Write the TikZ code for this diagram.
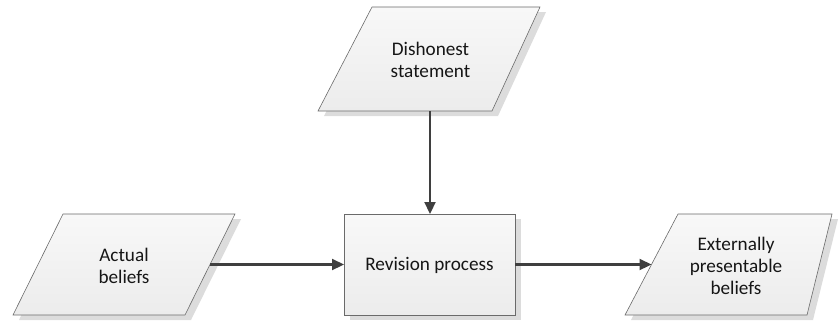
\documentclass[tikz,border=0pt]{standalone}
\usepackage{fontspec}
\setmainfont{Carlito}
\usetikzlibrary{arrows.meta}
\definecolor{edgegray}{HTML}{6A6A6A}
\definecolor{shadowgray}{HTML}{DCDCDC}
\definecolor{flowgray}{HTML}{3F3F3F}
\definecolor{fillhi}{HTML}{F8F8F8}
\definecolor{filllo}{HTML}{ECECEC}
\definecolor{textgray}{HTML}{161616}
\tikzset{
  x=1bp, y=-1bp,
  shapebody/.style={draw=edgegray, line width=0.6bp, top color=fillhi, bottom color=filllo},
  shapeshadow/.style={fill=shadowgray, draw=none},
  label/.style={align=center, text=textgray, font=\fontsize{19.2bp}{22bp}\selectfont, inner sep=0pt},
  flow/.style={draw=flowgray, line width=2.2bp, -{Triangle[length=12bp, width=11bp]}},
}
\begin{document}
\begin{tikzpicture}
\useasboundingbox (0,0) rectangle (839,322);

% shadows
\fill[shapeshadow, shift={(6,5)}] (372,7) -- (540,7) -- (492,111) -- (318,111) -- cycle;
\fill[shapeshadow, shift={(6,5)}] (63,214) -- (235,214) -- (185,315) -- (13,315) -- cycle;
\fill[shapeshadow, shift={(6,5)}] (344,214) rectangle (515,315);
\fill[shapeshadow, shift={(6,5)}] (678,214) -- (832,214) -- (807,315) -- (625,315) -- cycle;

% shapes
\path[shapebody] (372,7) -- (540,7) -- (492,111) -- (318,111) -- cycle;
\path[shapebody] (63,214) -- (235,214) -- (185,315) -- (13,315) -- cycle;
\path[shapebody] (344,214) rectangle (515,315);
\path[shapebody] (678,214) -- (832,214) -- (807,315) -- (625,315) -- cycle;

% labels
\node[label] (dishonest) at (430.5,60) {Dishonest\\statement};
\node[label] (actual) at (124,266) {Actual\\beliefs};
\node[label] (revision) at (429.5,265) {Revision process};
\node[label] (external) at (736,266) {Externally\\presentable\\beliefs};

% connector end points on the shape outlines
\coordinate (dishonest-s) at (430,111);
\coordinate (actual-e) at (210,264.5);
\coordinate (revision-n) at (430,214);
\coordinate (revision-w) at (344,264.5);
\coordinate (revision-e) at (515,264.5);
\coordinate (external-w) at (651.5,264.5);

% connectors
\draw[flow] (dishonest-s) -- (revision-n);
\draw[flow] (actual-e) -- (revision-w);
\draw[flow] (revision-e) -- (external-w);
\end{tikzpicture}
\end{document}
